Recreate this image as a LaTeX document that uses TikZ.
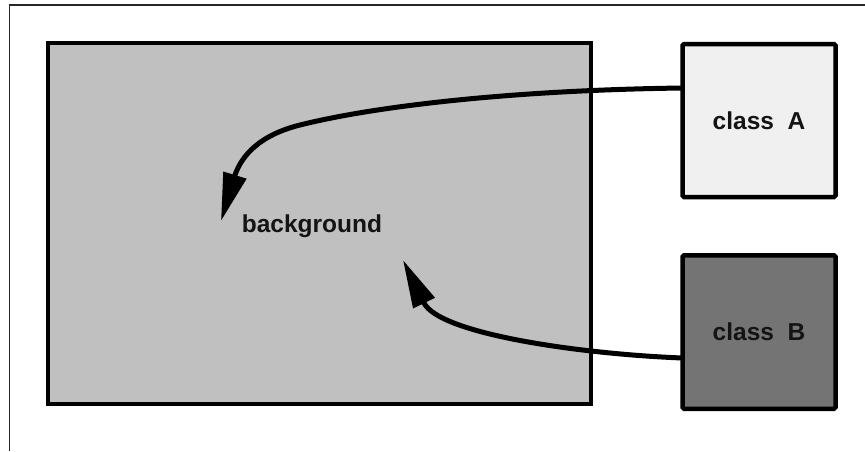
\documentclass[tikz,border=0pt]{standalone}
\usepackage{fontspec}
\setmainfont{Liberation Sans}
\usetikzlibrary{arrows.meta}
\definecolor{bggray}{HTML}{C0C0C0}
\definecolor{agray}{HTML}{F0F0F0}
\definecolor{bdark}{HTML}{747474}
\tikzset{
  lbl/.style={font=\bfseries\fontsize{24.5}{29}\selectfont, text=black!92},
  box/.style={draw=black, line width=4.5pt, rectangle, inner sep=0pt, lbl},
  conn/.style={draw=black, line width=5pt, line cap=butt,
    -{Triangle[length=48pt,width=23pt]}},
  frameline/.style={draw=black!85, line width=1.4pt}
}
\begin{document}
\begin{tikzpicture}[x=1pt,y=-1pt]
\useasboundingbox (0,0) rectangle (865,451);
\draw[frameline] (9.5,451) -- (9.5,5) -- (865,5);
\node[box, fill=bggray, minimum width=543pt, minimum height=361pt] (bg) at (319.5,223.5) {};
\node[lbl, anchor=base] (bgtext) at (312,232) {background};
\node[box, fill=agray, minimum width=153pt, minimum height=153pt, rounded corners=1.5pt] (A) at (759,120.5) {class\ \ A};
\node[box, fill=bdark, minimum width=153pt, minimum height=153.5pt, rounded corners=1.5pt] (B) at (759,332) {class\ \ B};
\coordinate (sA) at (682.5,88);
\coordinate (baseA) at (235,175);
\coordinate (tipA) at (221,221);
\coordinate (sB) at (682.5,358);
\coordinate (baseB) at (424,303);
\coordinate (tipB) at (403,260);
\draw[conn] (sA) .. controls (520,90) and (380,105) .. (300,125)
  .. controls (260,135) and (242,155) .. (baseA) -- (tipA);
\draw[conn] (sB) .. controls (580,354) and (440,334) .. (baseB) -- (tipB);
\end{tikzpicture}
\end{document}
